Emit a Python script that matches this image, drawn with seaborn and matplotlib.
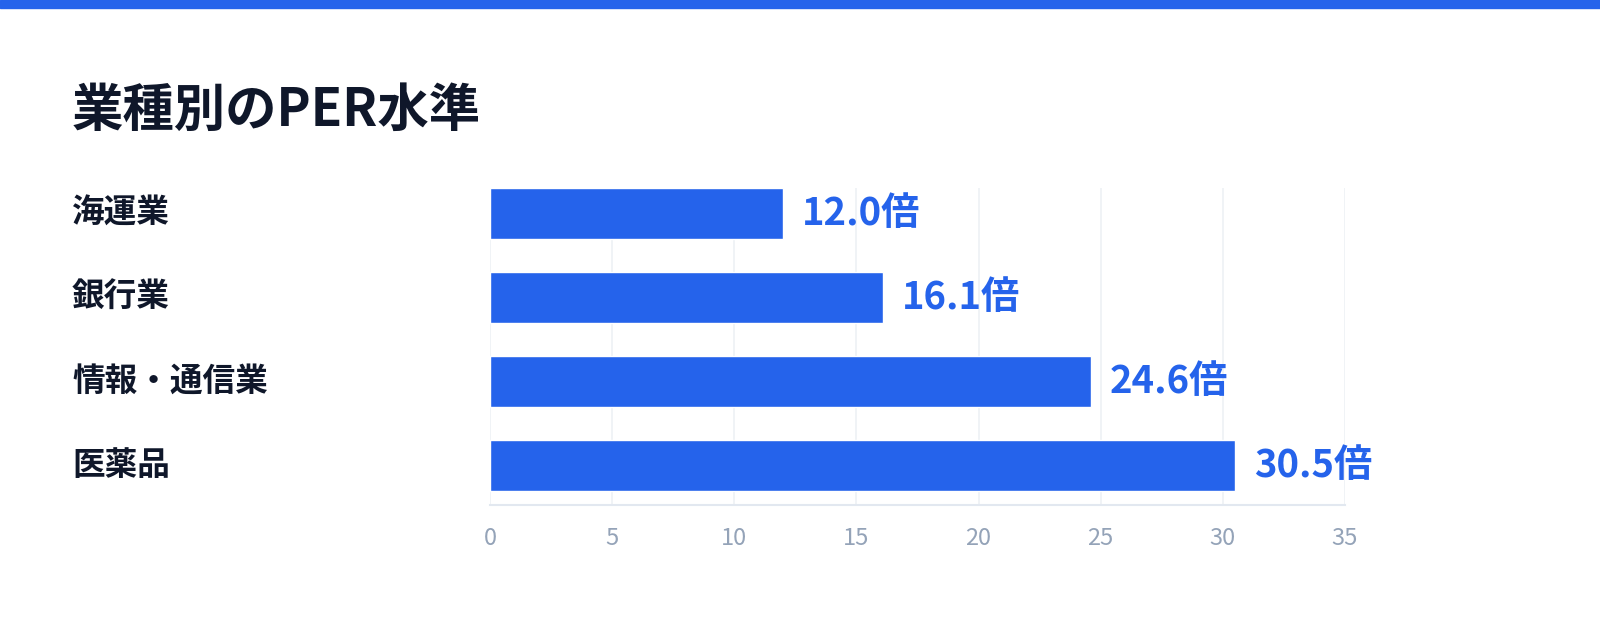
import matplotlib
matplotlib.use("Agg")
import matplotlib.pyplot as plt
import seaborn as sns
import pandas as pd

# data
industries = ["海運業", "銀行業", "情報・通信業", "医薬品"]
per_values = [12.0, 16.1, 24.6, 30.5]
x_ticks = [0, 5, 10, 15, 20, 25, 30, 35]

blue = "#2563eb"
dark = "#0f172a"
grey = "#94a3b8"
grid_c = "#eef1f5"

sns.set_theme(style="white")
plt.rcParams["font.family"] = ["Noto Sans CJK JP", "DejaVu Sans"]

df = pd.DataFrame({"industry": industries, "per": per_values})

fig = plt.figure(figsize=(16, 6.34), dpi=100)
ax = fig.add_axes([490 / 1600, 1 - 505 / 634, 855 / 1600, 317 / 634])

sns.barplot(data=df, x="per", y="industry", color=blue, width=0.607,
            saturation=1, ax=ax, zorder=3)

ax.set_xlim(0, 35)
ax.set_ylim(3.47, -0.3036)
ax.set_xticks(x_ticks)
ax.set_xticklabels([str(t) for t in x_ticks], color=grey, fontsize=17)
ax.tick_params(axis="x", length=0, pad=16)
ax.set_yticks([])
ax.set_xlabel("")
ax.set_ylabel("")
for s in ["top", "right", "left"]:
    ax.spines[s].set_visible(False)
ax.spines["bottom"].set_color("#e2e8f0")
ax.spines["bottom"].set_linewidth(1.5)
ax.xaxis.grid(True, color=grid_c, linewidth=1.2, zorder=0)
ax.set_axisbelow(True)

# category labels on the left
for i, name in enumerate(industries):
    ax.annotate(name, xy=(72 / 1600, i), xycoords=("figure fraction", "data"),
                fontsize=23.5, fontweight="bold", color=dark, va="center", ha="left")

# value labels
for i, v in enumerate(per_values):
    ax.annotate(f"{v:.1f}倍", xy=(v, i), xytext=(13.5, 0), textcoords="offset points",
                fontsize=27.5, fontweight="bold", color=blue, va="center", ha="left",
                annotation_clip=False)

# title and top stripe
fig.text(72 / 1600, 1 - 110 / 634, "業種別のPER水準", fontsize=37, fontweight="bold",
         color=dark, va="center", ha="left")
fig.patches.append(plt.Rectangle((0, 1 - 8 / 634), 1, 8 / 634, transform=fig.transFigure,
                                 color=blue, zorder=10))

fig.savefig("out.png", dpi=100, facecolor="white")
